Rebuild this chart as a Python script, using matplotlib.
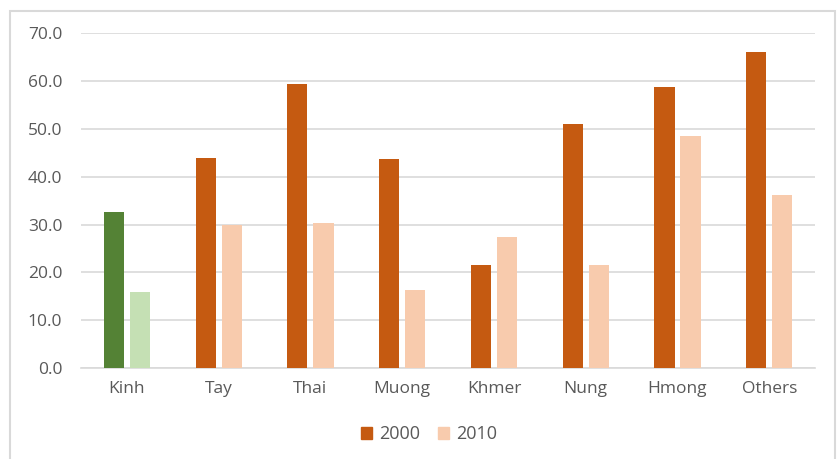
import numpy as np
import matplotlib.pyplot as plt
from matplotlib.patches import Rectangle, Patch

# Datos
grupos = ['Kinh', 'Tay', 'Thai', 'Muong', 'Khmer', 'Nung', 'Hmong', 'Others']
valores_2000 = [32.6, 43.8, 59.4, 43.6, 21.6, 51.0, 58.7, 66.0]
valores_2010 = [15.8, 29.8, 30.3, 16.3, 27.3, 21.6, 48.4, 36.1]
ticks_y = [0, 10, 20, 30, 40, 50, 60, 70]

naranja = '#C55A11'
naranja_claro = '#F8CBAD'
verde = '#548235'
verde_claro = '#C5E0B4'
gris_texto = '#595959'

plt.rcParams['font.family'] = ['Open Sans', 'DejaVu Sans']

fig = plt.figure(figsize=(8.4, 4.59), dpi=100)
ax = fig.add_axes([0.0964, 0.198, 0.874, 0.730])

x = np.arange(len(grupos))
ancho = 0.22
desplazamiento = 0.142

colores_2000 = [verde] + [naranja] * (len(grupos) - 1)
colores_2010 = [verde_claro] + [naranja_claro] * (len(grupos) - 1)

ax.bar(x - desplazamiento, valores_2000, width=ancho, color=colores_2000, zorder=3)
ax.bar(x + desplazamiento, valores_2010, width=ancho, color=colores_2010, zorder=3)

ax.set_xlim(-0.5, len(grupos) - 0.5)
ax.set_ylim(0, 70)
ax.set_yticks(ticks_y)
ax.set_yticklabels([f'{v:.1f}' for v in ticks_y])
ax.set_xticks(x)
ax.set_xticklabels(grupos)
ax.tick_params(axis='both', length=0, labelsize=12.5, labelcolor=gris_texto)
ax.tick_params(axis='y', pad=13.5)
ax.tick_params(axis='x', pad=9)
ax.grid(axis='y', color='#D9D9D9', linewidth=1.2, zorder=0)
for lado in ['top', 'right', 'left']:
    ax.spines[lado].set_visible(False)
ax.spines['bottom'].set_color('#D9D9D9')
ax.spines['bottom'].set_linewidth(1.2)

# Leyenda
manejadores = [Patch(color=naranja, label='2000'), Patch(color=naranja_claro, label='2010')]
fig.legend(handles=manejadores, loc='center', bbox_to_anchor=(0.511, 0.054), ncol=2, frameon=False,
           fontsize=13, labelcolor=gris_texto, handlelength=0.6, handleheight=0.6, handletextpad=0.4,
           columnspacing=1.0)

# Borde exterior del grafico
fig.patches.append(Rectangle((10 / 840, -0.01), 825 / 840, 1 - 11 / 459 + 0.01, transform=fig.transFigure,
                             fill=False, edgecolor='#D9D9D9', linewidth=1.5))

fig.savefig('out.png', dpi=100)
